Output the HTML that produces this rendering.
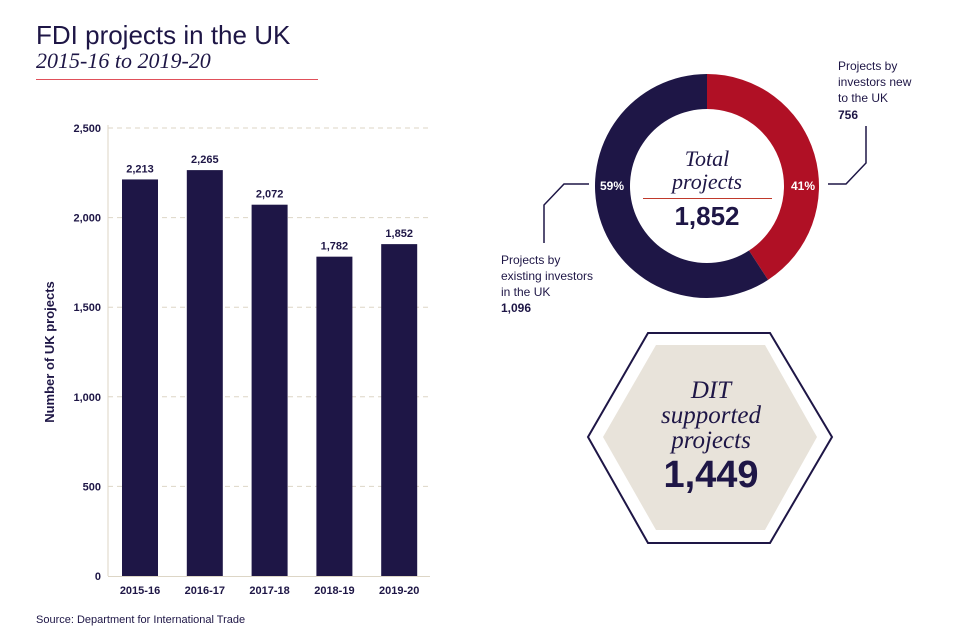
<!DOCTYPE html>
<html><head><meta charset="utf-8"><style>
body{margin:0;width:960px;height:640px;background:#fff;overflow:hidden;font-family:"Liberation Sans",sans-serif}
svg{display:block}
</style></head><body>
<svg width="960" height="640" viewBox="0 0 960 640">
<text x="36" y="44" font-size="26" fill="#1e1646" font-family="Liberation Sans">FDI projects in the UK</text>
<text x="36" y="68" font-size="22" font-style="italic" fill="#1e1646" font-family="Liberation Serif">2015-16 to 2019-20</text>
<line x1="36" y1="79.5" x2="318" y2="79.5" stroke="#e0505a" stroke-width="1"/>
<g id="chart"></g>
<text transform="translate(54,352) rotate(-90)" text-anchor="middle" font-size="13" font-weight="bold" fill="#1e1646">Number of UK projects</text>
<text x="36" y="623" font-size="11" fill="#1e1646">Source: Department for International Trade</text>

<g id="donut"></g>
<text x="707" y="166" text-anchor="middle" font-size="22" font-style="italic" fill="#1e1646" font-family="Liberation Serif">Total</text>
<text x="707" y="189" text-anchor="middle" font-size="22" font-style="italic" fill="#1e1646" font-family="Liberation Serif">projects</text>
<line x1="643" y1="198.5" x2="772" y2="198.5" stroke="#c0392b" stroke-width="1"/>
<text x="707" y="225" text-anchor="middle" font-size="26" font-weight="bold" fill="#1e1646">1,852</text>

<polyline points="828,184 846,184 866,163 866,126" fill="none" stroke="#1e1646" stroke-width="1.5"/>
<g font-size="12" fill="#1e1646">
<text x="838" y="70">Projects by</text><text x="838" y="86">investors new</text><text x="838" y="102">to the UK</text><text x="838" y="119" font-weight="bold">756</text></g>
<polyline points="589,184 564,184 544,205 544,243" fill="none" stroke="#1e1646" stroke-width="1.5"/>
<g font-size="12" fill="#1e1646">
<text x="501" y="264">Projects by</text><text x="501" y="280">existing investors</text><text x="501" y="296">in the UK</text><text x="501" y="312" font-weight="bold">1,096</text></g>

<polygon points="648,333 770,333 832,437 770,543 648,543 588,437" fill="none" stroke="#1e1646" stroke-width="2"/>
<polygon points="656,345 765,345 817,437 765,530 656,530 603,437" fill="#e8e3da"/>
<g font-family="Liberation Serif" font-style="italic" font-size="25" fill="#1e1646" text-anchor="middle">
<text x="711" y="398">DIT</text><text x="711" y="423">supported</text><text x="711" y="448">projects</text></g>
<text x="711" y="487" text-anchor="middle" font-size="38" font-weight="bold" fill="#1e1646">1,449</text>
</svg>
<script>
const categories=["2015-16","2016-17","2017-18","2018-19","2019-20"];
const values=[2213,2265,2072,1782,1852];
const valueLabels=["2,213","2,265","2,072","1,782","1,852"];
const ticks=[0,500,1000,1500,2000,2500];
const tickLabels=["0","500","1,000","1,500","2,000","2,500"];
const donutValues=[756,1096];
const donutLabels=["41%","59%"];
const NS="http://www.w3.org/2000/svg";
function mk(t,a,p){const e=document.createElementNS(NS,t);for(const k in a)e.setAttribute(k,a[k]);p.appendChild(e);return e;}
const y=v=>576-v*448/2500;
const x=i=>140+i*64.8;
const g=document.getElementById('chart');
ticks.forEach((t,i)=>{
 if(t>0){const l=mk('line',{x1:108,x2:430,y1:y(t),y2:y(t),stroke:'#ddd6c6','stroke-dasharray':'5,4'},g);
 
 }
 const tx=mk('text',{x:101,y:y(t)+4,'text-anchor':'end','font-size':11,'font-weight':'bold',fill:'#1e1646'},g);tx.textContent=tickLabels[i];
 
 
});
const ax=mk('line',{x1:108,x2:108,y1:125,y2:576,stroke:'#ddd6c6'},g);


const bx=mk('line',{x1:108,x2:430,y1:576.5,y2:576.5,stroke:'#ddd6c6'},g);


values.forEach((v,i)=>{
 const r=mk('rect',{x:x(i)-18,y:y(v),width:36,height:576-y(v),fill:'#1e1646'},g);
 
 
 const t=mk('text',{x:x(i),y:y(v)-7,'text-anchor':'middle','font-size':11,'font-weight':'bold',fill:'#1e1646'},g);t.textContent=valueLabels[i];
 
 
 const c=mk('text',{x:x(i),y:594,'text-anchor':'middle','font-size':11,'font-weight':'bold',fill:'#1e1646'},g);c.textContent=categories[i];
 
 
});
const d=document.getElementById('donut');
const cx=707,cy=186,R=112,r0=77,tot=donutValues.reduce((a,b)=>a+b,0);
const cols=['#b01025','#1e1646'];
let a0=-Math.PI/2;
donutValues.forEach((v,i)=>{
 const a1=a0+v/tot*2*Math.PI,lg=(a1-a0)>Math.PI?1:0;
 const p=`M${cx+R*Math.cos(a0)},${cy+R*Math.sin(a0)} A${R},${R} 0 ${lg} 1 ${cx+R*Math.cos(a1)},${cy+R*Math.sin(a1)} L${cx+r0*Math.cos(a1)},${cy+r0*Math.sin(a1)} A${r0},${r0} 0 ${lg} 0 ${cx+r0*Math.cos(a0)},${cy+r0*Math.sin(a0)} Z`;
 const s=mk('path',{d:p,fill:cols[i]},d);
 
 
 a0=a1;
});
[[803,donutLabels[0]],[612,donutLabels[1]]].forEach((q,i)=>{
 const t=mk('text',{x:q[0],y:190,'text-anchor':'middle','font-size':12,'font-weight':'bold',fill:'#fff'},d);t.textContent=q[1];
 
 
});
</script>
</body></html>
